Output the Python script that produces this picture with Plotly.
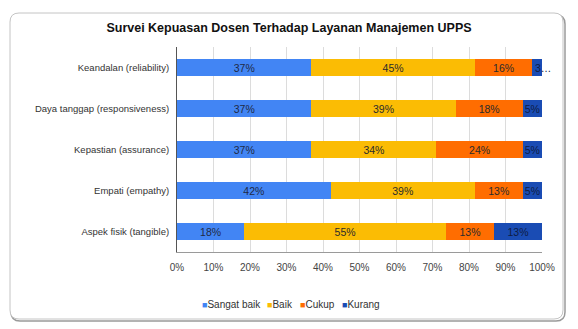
import plotly.graph_objects as go

categories = ["Keandalan (reliability)", "Daya tanggap (responsiveness)",
              "Kepastian (assurance)", "Empati (empathy)", "Aspek fisik (tangible)"]
series_names = ["Sangat baik", "Baik", "Cukup", "Kurang"]
sangat_baik = [36.84, 36.84, 36.84, 42.11, 18.42]
baik = [44.74, 39.47, 34.21, 39.47, 55.26]
cukup = [15.79, 18.42, 23.68, 13.16, 13.16]
kurang = [2.63, 5.26, 5.26, 5.26, 13.16]
x_ticks = [0, 10, 20, 30, 40, 50, 60, 70, 80, 90, 100]
x_ticktext = [f"{v}%" for v in x_ticks]
title_text = "Survei Kepuasan Dosen Terhadap Layanan Manajemen UPPS"

colors = ["#4285F4", "#FBBC04", "#FF6D01", "#1A4CB4"]
text_colors = ["#1f2a44", "#2b2b2b", "#2b2b2b", "#0e1c44"]
series = [sangat_baik, baik, cukup, kurang]

W, H = 578, 329
L, R, T, B = 177, 36, 47, 77
pw, ph = W - L - R, H - T - B


def px(p):
    return (p - L) / pw


def py(p):
    return (H - B - p) / ph


SMALL = 4  # segments narrower than this get a truncated label


def label(v):
    return f"{round(v)}%"


fig = go.Figure()
annotations = []
for i, (name, vals, c, tc) in enumerate(zip(series_names, series, colors, text_colors)):
    texts = [label(v) if v >= SMALL else "" for v in vals]
    fig.add_trace(go.Bar(
        y=categories, x=vals, name=name, orientation="h",
        marker=dict(color=c, line=dict(width=0)),
        text=texts, textposition="inside",
        insidetextanchor="middle", constraintext="none",
        textfont=dict(color=tc, size=10.5),
        hoverinfo="skip", showlegend=False,
    ))
    for j, v in enumerate(vals):
        if v < SMALL:
            start = sum(series[k][j] for k in range(i))
            annotations.append(dict(
                x=start, y=categories[j], xref="x", yref="y", xanchor="left",
                text=label(v)[0] + "…",
                showarrow=False, xshift=1,
                font=dict(size=10.5, color=tc)))

# compact legend row: one annotation per entry
legend_x = [201, 266, 299, 341]
for n, c, lx in zip(series_names, colors, legend_x):
    annotations.append(dict(
        x=px(lx), y=py(304), xref="paper", yref="paper", xanchor="left", yanchor="middle",
        text=f"<span style='color:{c};font-size:9px'>■</span>{n}", showarrow=False,
        font=dict(size=10, color="#333"), borderpad=0))


def rounded_rect(x0, y0, x1, y1, r):
    pts = [
        f"M {px(x0 + r)},{py(y0)}",
        f"L {px(x1 - r)},{py(y0)}",
        f"Q {px(x1)},{py(y0)} {px(x1)},{py(y0 + r)}",
        f"L {px(x1)},{py(y1 - r)}",
        f"Q {px(x1)},{py(y1)} {px(x1 - r)},{py(y1)}",
        f"L {px(x0 + r)},{py(y1)}",
        f"Q {px(x0)},{py(y1)} {px(x0)},{py(y1 - r)}",
        f"L {px(x0)},{py(y0 + r)}",
        f"Q {px(x0)},{py(y0)} {px(x0 + r)},{py(y0)}",
        "Z",
    ]
    return " ".join(pts)


shapes = [
    dict(type="path", xref="paper", yref="paper", path=rounded_rect(11, 15, 565, 321, 9),
         line=dict(color="#9a9a9a", width=1.5), fillcolor="rgba(0,0,0,0)", layer="below"),
    dict(type="path", xref="paper", yref="paper", path=rounded_rect(10, 13, 563, 319, 9),
         line=dict(color="#c4c4c4", width=1), fillcolor="white", layer="below"),
]

fig.update_layout(
    width=W, height=H,
    margin=dict(l=L, r=R, t=T, b=B),
    barmode="stack", bargap=0.6,
    paper_bgcolor="white", plot_bgcolor="white",
    font=dict(family="Liberation Sans, Arial, sans-serif", size=10, color="#333"),
    title=dict(text=f"<b>{title_text}</b>", x=0.5, xanchor="center", y=1 - 28 / H,
               yanchor="middle", font=dict(size=12.5, color="#111")),
    showlegend=False,
    annotations=annotations,
    shapes=shapes,
    xaxis=dict(range=[0, 100], tickvals=x_ticks, ticktext=x_ticktext, showgrid=True,
               gridcolor="#dcdcdc", gridwidth=1, zeroline=False, showline=True,
               linecolor="#9a9a9a", linewidth=1, ticks="", fixedrange=True,
               ticklabelstandoff=6, tickfont=dict(size=10, color="#444")),
    yaxis=dict(autorange="reversed", showgrid=False, showline=True, linecolor="#555",
               linewidth=1, ticks="", tickfont=dict(size=9.5, color="#333"),
               ticklabelstandoff=5, fixedrange=True),
)

fig.write_html("out.html")
